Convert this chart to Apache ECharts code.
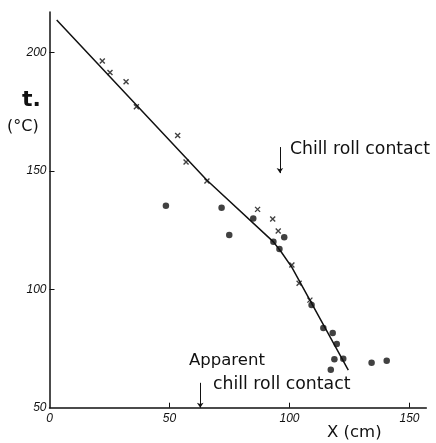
<!DOCTYPE html>
<html>
<head>
<meta charset="utf-8">
<script src="https://cdn.jsdelivr.net/npm/echarts@6/dist/echarts.min.js"></script>
<style>
html,body{margin:0;padding:0;background:#fff;}
#chart{width:436px;height:443px;}
</style>
</head>
<body>
<div id="chart"></div>
<script>
// ---- data ----
var crossX = [22, 25.2, 31.9, 36.2, 53.4, 56.9, 65.6, 86.7, 93, 95.3, 101, 104, 108.5];
var crossY = [196.3, 191.5, 187.6, 177, 164.9, 153.7, 145.7, 133.7, 129.6, 124.6, 110.2, 102.5, 95.4];
var dotX = [48.5, 71.7, 74.9, 84.9, 93.3, 95.8, 97.8, 109.2, 114.1, 118, 119.7, 122.4, 118.7, 117.2, 134.2, 140.5];
var dotY = [135.2, 134.4, 122.9, 129.9, 120, 117, 121.9, 93.3, 83.6, 81.5, 76.9, 70.7, 70.5, 66, 69, 69.8];
var fitX = [3, 65.5, 93.3, 96.5, 101, 124.5];
var fitY = [213.6, 146.1, 120, 115.8, 109.2, 65.9];
var xTicks = [0, 50, 100, 150];
var yTicks = [50, 100, 150, 200];
var chillRollX = 96;
var chillRollY = [160, 149];
var apparentX = 62.8;
var apparentY = [60.5, 50];

function pairs(xs, ys) { return xs.map(function (v, i) { return [v, ys[i]]; }); }

var chart = echarts.init(document.getElementById('chart'));
var numFont = {fontFamily: 'Liberation Sans', fontStyle: 'italic', fontSize: 12, color: '#111'};
var txtFont = 'DejaVu Sans';

chart.setOption({
  backgroundColor: '#fff',
  animation: false,
  grid: {left: 49.5, right: 9.7, top: 12, bottom: 35.3, containLabel: false},
  xAxis: {
    type: 'value', min: 0, max: 157,
    axisLine: {show: true, lineStyle: {color: '#111', width: 1.5}},
    axisTick: {show: true, inside: true, length: 5, customValues: [50, 100, 150], lineStyle: {color: '#111', width: 1}},
    axisLabel: Object.assign({customValues: xTicks, margin: 5}, numFont),
    splitLine: {show: false}
  },
  yAxis: {
    type: 'value', min: 50, max: 217,
    axisLine: {show: true, lineStyle: {color: '#111', width: 1.5}},
    axisTick: {show: true, inside: true, length: 5, customValues: [100, 150, 200], lineStyle: {color: '#111', width: 1}},
    axisLabel: Object.assign({customValues: yTicks, margin: 3}, numFont),
    splitLine: {show: false}
  },
  series: [
    {
      type: 'line', data: pairs(fitX, fitY), symbol: 'none', silent: true,
      lineStyle: {color: '#111', width: 1.5}
    },
    {
      type: 'scatter', data: pairs(crossX, crossY),
      symbol: 'path://M0,0L10,10M10,0L0,10', symbolSize: 5,
      itemStyle: {color: 'none', borderColor: '#111', borderWidth: 1.4}
    },
    {
      type: 'scatter', data: pairs(dotX, dotY),
      symbol: 'circle', symbolSize: 6.5,
      itemStyle: {color: '#111'},
      markLine: {
        silent: true, symbol: ['none', 'arrow'], symbolSize: 5, label: {show: false},
        itemStyle: {color: '#111'},
        lineStyle: {color: '#111', width: 1, type: 'solid'},
        data: [
          [{coord: [chillRollX, chillRollY[0]]}, {coord: [chillRollX, chillRollY[1]]}],
          [{coord: [apparentX, apparentY[0]]}, {coord: [apparentX, apparentY[1]]}]
        ]
      }
    }
  ],
  graphic: [
    {type: 'text', left: 22, top: 89, style: {text: 't.', font: 'bold 22px ' + txtFont, fill: '#111'}},
    {type: 'text', left: 7, top: 119, style: {text: '(°C)', font: '16px ' + txtFont, fill: '#111'}},
    {type: 'text', left: 290, top: 141, style: {text: 'Chill roll contact', font: '17.3px ' + txtFont, fill: '#111'}},
    {type: 'text', left: 189, top: 352, style: {text: 'Apparent', font: '16.5px ' + txtFont, fill: '#111'}},
    {type: 'text', left: 213, top: 376, style: {text: 'chill roll contact', font: '17.3px ' + txtFont, fill: '#111'}},
    {type: 'text', left: 327, top: 424, style: {text: 'X (cm)', font: '16.5px ' + txtFont, fill: '#111'}}
  ]
});
</script>
</body>
</html>
